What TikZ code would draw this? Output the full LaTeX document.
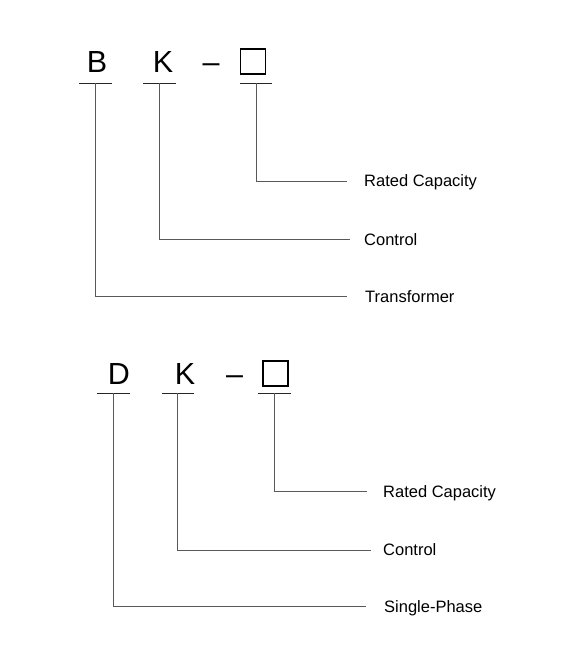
\documentclass[tikz,border=0pt]{standalone}
\usepackage{fontspec}
\setmainfont{Liberation Sans}
\tikzset{
  code/.style={inner sep=0pt, text height=21.8pt, text depth=0pt, font=\fontsize{30.5}{32}\selectfont},
  sq/.style={draw, line width=1.1pt, minimum size=25pt, inner sep=0pt},
  lbl/.style={inner sep=0pt, anchor=west, text height=11.8pt, text depth=0pt, font=\fontsize{16.5}{18}\selectfont},
  bar/.style={line width=0.9pt, black!85},
  lead/.style={line width=0.8pt, black!65},
}
\begin{document}
\begin{tikzpicture}[x=1pt,y=-1pt]
\useasboundingbox (0,0) rectangle (566,664);
\begin{scope}[shift={(0,0)}] %BK
\node[code] (B1) at (97,62) {B};
\node[code] (K1) at (163,62) {K};
\node[code] (dash1) at (211,62) {--};
\node[sq] (box1) at (253,61.5) {};
\coordinate (bB1) at (95.5,83);
\coordinate (bK1) at (159.5,83);
\coordinate (bS1) at (256,83);
\draw[bar] ([xshift=-16.5pt]bB1) -- ([xshift=16.5pt]bB1);
\draw[bar] ([xshift=-16.5pt]bK1) -- ([xshift=16.5pt]bK1);
\draw[bar] ([xshift=-16pt]bS1) -- ([xshift=16pt]bS1);
\node[lbl] (rc1) at (364,181) {Rated Capacity};
\node[lbl] (ctl1) at (364,239.5) {Control};
\node[lbl] (tr1) at (365,296.3) {Transformer};
\draw[lead] (bS1) |- ([xshift=-17pt]rc1.west);
\draw[lead] (bK1) |- ([xshift=-14pt]ctl1.west);
\draw[lead] (bB1) |- ([xshift=-18pt]tr1.west);
\end{scope}
\begin{scope}[shift={(18,310)}] %DK
\node[code] (D2) at (101,63.5) {D};
\node[code] (K2) at (167,63.5) {K};
\node[code] (dash2) at (216.5,63.5) {--};
\node[sq] (box2) at (257.5,63.5) {};
\coordinate (bD2) at (95.5,83);
\coordinate (bK2) at (159.5,83);
\coordinate (bS2) at (256.5,83);
\draw[bar] ([xshift=-16.5pt]bD2) -- ([xshift=16.5pt]bD2);
\draw[bar] ([xshift=-16pt]bK2) -- ([xshift=16pt]bK2);
\draw[bar] ([xshift=-16.5pt]bS2) -- ([xshift=16.5pt]bS2);
\node[lbl] (rc2) at (365,181.5) {Rated Capacity};
\node[lbl] (ctl2) at (365,240) {Control};
\node[lbl] (sp2) at (366,296.5) {Single-Phase};
\draw[lead] (bS2) |- ([xshift=-16.5pt]rc2.west);
\draw[lead] (bK2) |- ([xshift=-12pt]ctl2.west);
\draw[lead] (bD2) |- ([xshift=-18pt]sp2.west);
\end{scope}
\end{tikzpicture}
\end{document}
